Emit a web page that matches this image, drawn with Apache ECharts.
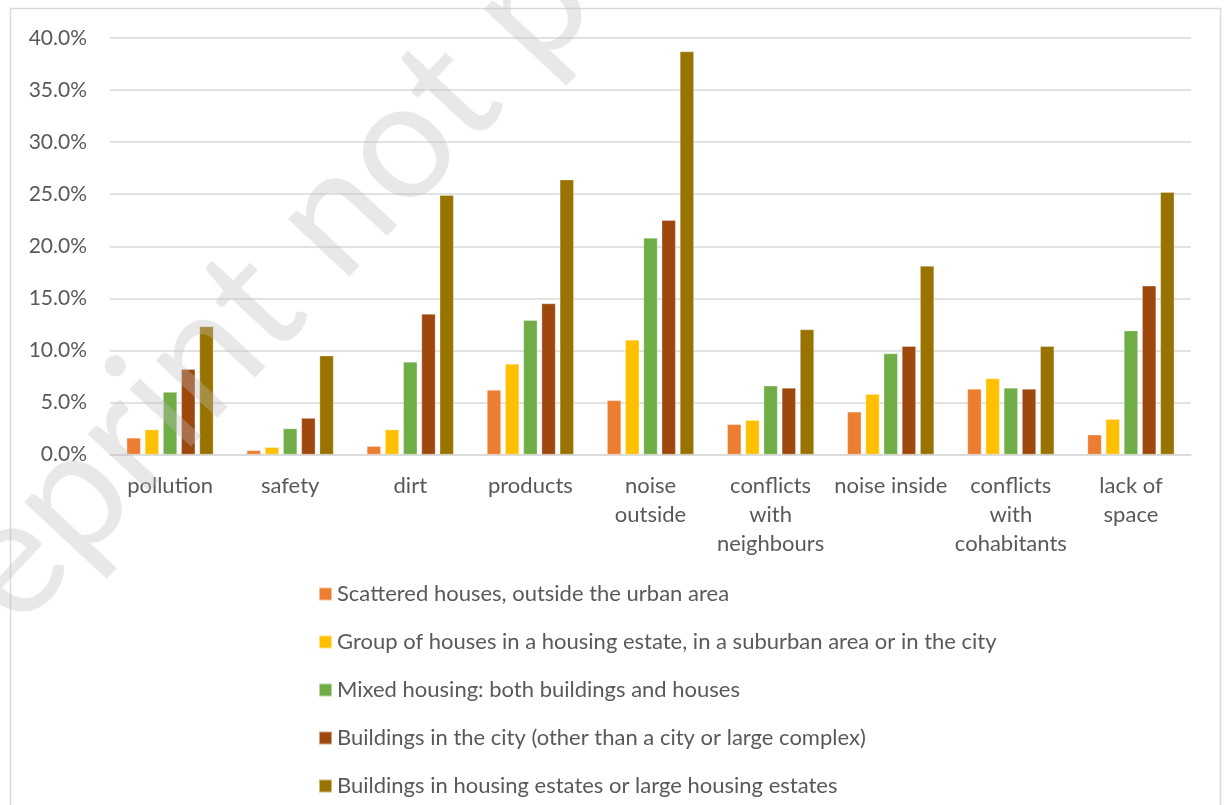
<!DOCTYPE html>
<html>
<head>
<meta charset="utf-8">
<script src="https://cdn.jsdelivr.net/npm/echarts@6/dist/echarts.min.js"></script>
<style>
html,body{margin:0;padding:0;background:#fff;}
#chart{width:1226px;height:805px;}
</style>
</head>
<body>
<div id="chart"></div>
<script>
// ---- data ----
var categories = ['pollution', 'safety', 'dirt', 'products', 'noise outside', 'conflicts with neighbours', 'noise inside', 'conflicts with cohabitants', 'lack of space'];
var categoryLabels = ['pollution', 'safety', 'dirt', 'products', 'noise\noutside', 'conflicts\nwith\nneighbours', 'noise inside', 'conflicts\nwith\ncohabitants', 'lack of\nspace'];
var seriesNames = [
  'Scattered houses, outside the urban area',
  'Group of houses in a housing estate, in a suburban area or in the city',
  'Mixed housing: both buildings and houses',
  'Buildings in the city (other than a city or large complex)',
  'Buildings in housing estates or large housing estates'
];
var scattered   = [1.6, 0.4, 0.8, 6.2, 5.2, 2.9, 4.1, 6.3, 1.9];
var groupHouses = [2.4, 0.7, 2.4, 8.7, 11.0, 3.3, 5.8, 7.3, 3.4];
var mixed       = [6.0, 2.5, 8.9, 12.9, 20.8, 6.6, 9.7, 6.4, 11.9];
var cityBuild   = [8.2, 3.5, 13.5, 14.5, 22.5, 6.4, 10.4, 6.3, 16.2];
var estates     = [12.3, 9.5, 24.9, 26.4, 38.7, 12.0, 18.1, 10.4, 25.2];
var yTicks = [0, 5, 10, 15, 20, 25, 30, 35, 40];
var colors = ['#ED7D31', '#FFC000', '#70AD47', '#9E480E', '#997300'];
var watermark = 'Preprint not peer reviewed';

var allValues = [scattered, groupHouses, mixed, cityBuild, estates];
var FONT = 'Lato, "Liberation Sans", sans-serif';

var chart = echarts.init(document.getElementById('chart'), null, {renderer: 'canvas'});
var series = allValues.map(function (vals, i) {
  return {
    name: seriesNames[i],
    type: 'bar',
    data: vals,
    barWidth: 14,
    barGap: '30%',
    itemStyle: {color: colors[i], borderColor: 'rgba(255,255,255,0.5)', borderWidth: 0.6},
    emphasis: {disabled: true}
  };
});

var option = {
  animation: false,
  backgroundColor: '#ffffff',
  color: colors,
  grid: {left: 110, right: 35, top: 38, bottom: 350.5, containLabel: false},
  xAxis: {
    type: 'category',
    data: categories,
    axisLine: {lineStyle: {color: '#d9d9d9', width: 1.5}},
    axisTick: {show: false},
    axisLabel: {
      interval: 0,
      margin: 17,
      color: '#595959',
      fontFamily: FONT,
      fontSize: 22,
      lineHeight: 29,
      formatter: function (v, idx) { return categoryLabels[idx]; }
    }
  },
  yAxis: {
    type: 'value',
    min: yTicks[0],
    max: yTicks[yTicks.length - 1],
    interval: 5,
    axisLine: {show: false},
    axisTick: {show: false},
    splitLine: {lineStyle: {color: '#d9d9d9', width: 1.5}},
    axisLabel: {
      margin: 23,
      color: '#595959',
      fontFamily: FONT,
      fontSize: 21,
      formatter: function (v) { return v.toFixed(1) + '%'; }
    }
  },
  legend: {
    orient: 'vertical',
    left: 318,
    top: 583,
    padding: 0,
    itemWidth: 13,
    itemHeight: 13,
    itemGap: 26,
    icon: 'rect',
    data: seriesNames,
    selectedMode: false,
    textStyle: {color: '#595959', fontFamily: FONT, fontSize: 22, lineHeight: 22, padding: [0, 0, 0, 0]}
  },
  graphic: [
    {
      type: 'rect',
      z: -1,
      silent: true,
      shape: {x: 10.5, y: 8.5, width: 1210, height: 900},
      style: {fill: 'none', stroke: '#d9d9d9', lineWidth: 1.5}
    },
    {
      type: 'text',
      z: 100,
      silent: true,
      x: -127,
      y: 709,
      rotation: 47 * Math.PI / 180,
      style: {
        text: watermark,
        fill: 'rgba(190,190,190,0.35)',
        fontFamily: FONT,
        fontSize: 166,
        textAlign: 'left',
        textVerticalAlign: 'middle'
      }
    }
  ],
  series: series
};
chart.setOption(option);
</script>
</body>
</html>
